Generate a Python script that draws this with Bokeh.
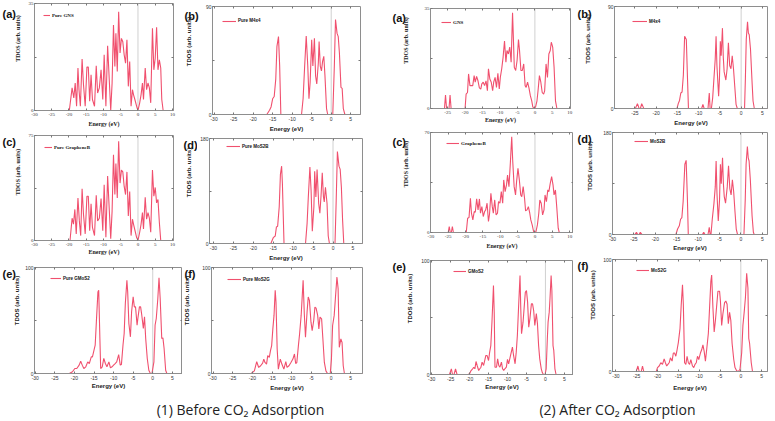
import math
from bokeh.plotting import figure
from bokeh.models import Range1d, FixedTicker, LinearAxis, Span, Label
from bokeh.core.properties import value
from bokeh.layouts import column, row
from bokeh.embed import file_html
from bokeh.resources import INLINE

# ---------------- data (energy eV, TDOS arb. units) ----------------
gns_before = [(-30, 0), (-19.9, 0), (-19.1, 7.4), (-18.6, 4.1), (-18.2, 9.0), (-17.8, 1.4), (-17.4, 13.9), (-17.1, 6.8),
              (-16.7, 1.4), (-16.2, 16.8), (-15.8, 8.5), (-15.3, 1.4), (-14.8, 14.2), (-14.4, 14.2), (-14.0, 3.0),
              (-13.6, 11.7), (-13.2, 3.6), (-12.6, 1.4), (-12.1, 14.6), (-11.7, 5.7), (-11.2, 7.4), (-10.7, 13.3),
              (-10.2, 3.6), (-9.8, 18.2), (-9.3, 1.4), (-8.8, 21.2), (-8.3, 9.5), (-7.9, 0.0), (-7.5, 9.0), (-7.1, 28.0),
              (-6.7, 14.4), (-6.4, 25.3), (-6.0, 12.8), (-5.6, 32.3), (-5.2, 18.8), (-4.8, 23.6), (-4.4, 22.5),
              (-4.0, 18.2), (-3.6, 15.5), (-3.2, 23.1), (-2.8, 7.9), (-2.4, 16.0), (-2.0, 1.4), (-1.6, 6.8), (-1.3, 5.2),
              (-0.9, 3.6), (-0.4, 1.4), (0.0, 0), (0.5, 2.5), (0.9, 5.2), (1.3, 9.0), (1.6, 3.6), (2.1, 13.9), (2.5, 6.8),
              (2.9, 9.0), (3.3, 7.4), (3.7, 2.5), (4.2, 26.9), (4.6, 13.3), (5.0, 17.1), (5.4, 27.2), (5.8, 13.3),
              (6.2, 16.6), (6.6, 13.9), (6.9, 3.6), (7.3, 0), (10.3, 0)]

m4x4_before = [(-30.4, 0), (-16.5, 0), (-15.8, 3.5), (-15.4, 6.3), (-15.0, 13.1), (-14.6, 15.0), (-14.2, 29.5),
               (-13.9, 56.7), (-13.5, 64.9), (-13.2, 40.4), (-12.9, 0), (-7.6, 0), (-7.2, 13.1), (-6.8, 40.4),
               (-6.4, 65.4), (-6.0, 40.4), (-5.7, 13.1), (-5.4, 26.7), (-5.0, 62.2), (-4.7, 40.4), (-4.3, 63.5),
               (-4.0, 32.2), (-3.7, 25.4), (-3.3, 43.1), (-3.1, 60.8), (-2.8, 40.4), (-2.5, 36.3), (-2.2, 44.5),
               (-1.9, 48.5), (-1.6, 32.2), (-1.2, 4.9), (-0.9, 0), (0.4, 0), (0.8, 40.4), (1.1, 79.1), (1.5, 67.6),
               (1.8, 64.9), (2.1, 51.3), (2.5, 22.6), (2.8, 21.8), (3.1, 4.9), (3.5, 0), (7.5, 0)]

grapheneb_before = [(-30, 0), (-19.7, 0), (-19.1, 15.9), (-18.7, 11.7), (-18.3, 22.2), (-17.9, 4.7), (-17.4, 30.4),
                    (-17.0, 14.0), (-16.6, 3.5), (-16.2, 37.0), (-15.8, 18.7), (-15.3, 4.7), (-14.8, 31.6),
                    (-14.4, 31.6), (-14.0, 7.0), (-13.6, 26.2), (-13.2, 9.4), (-12.6, 3.5), (-12.1, 32.3),
                    (-11.7, 14.0), (-11.2, 15.9), (-10.7, 30.0), (-10.2, 7.0), (-9.8, 39.8), (-9.3, 2.3),
                    (-8.8, 46.1), (-8.3, 21.0), (-7.9, 1.2), (-7.5, 21.0), (-7.1, 61.3), (-6.7, 32.8), (-6.4, 55.0),
                    (-6.0, 30.4), (-5.6, 70.9), (-5.2, 41.0), (-4.8, 50.3), (-4.4, 49.0), (-4.0, 38.6), (-3.6, 32.8),
                    (-3.2, 49.0), (-2.8, 17.6), (-2.4, 35.0), (-2.0, 3.5), (-1.6, 15.2), (-1.3, 11.7), (-0.9, 7.5),
                    (-0.4, 2.3), (0.0, 0), (0.5, 5.9), (0.9, 11.7), (1.3, 19.9), (1.6, 8.2), (2.1, 30.9), (2.5, 15.2),
                    (2.9, 19.9), (3.3, 15.9), (3.7, 5.9), (4.2, 50.3), (4.6, 31.6), (5.0, 37.9), (5.4, 26.9),
                    (5.8, 29.3), (6.2, 12.9), (6.6, 0), (10.3, 0)]

mos2b_before = [(-31, 0), (-15.6, 0), (-15.0, 10.0), (-14.5, 12.8), (-14.2, 28.4), (-13.9, 29.5), (-13.5, 63.0),
                (-13.2, 118.6), (-12.9, 132.6), (-12.7, 102.0), (-12.3, 0), (-6.9, 0), (-6.5, 35.0), (-6.2, 79.7),
                (-5.8, 131.0), (-5.5, 90.8), (-5.2, 21.2), (-4.8, 63.0), (-4.6, 124.0), (-4.3, 79.7), (-4.0, 127.0),
                (-3.6, 68.5), (-3.3, 51.8), (-3.0, 82.4), (-2.7, 121.4), (-2.4, 79.7), (-2.2, 71.3), (-1.9, 96.4),
                (-1.5, 68.5), (-1.2, 12.8), (-0.9, 0), (0.5, 0), (0.8, 74.0), (1.1, 157.6), (1.5, 132.6), (1.8, 127.0),
                (2.1, 96.4), (2.4, 40.7), (2.7, 0), (7.4, 0)]

gmos2_before = [(-30.2, 0), (-21.3, 0), (-20.5, 1.6), (-19.9, 4.7), (-19.4, 4.7), (-18.8, 7.9), (-18.4, 11.6),
                (-18.0, 7.9), (-17.6, 4.7), (-17.1, 6.3), (-16.6, 11.0), (-16.2, 9.4), (-15.7, 15.7), (-15.4, 15.7),
                (-15.0, 22.0), (-14.7, 26.7), (-14.4, 48.7), (-14.0, 77.0), (-13.8, 78.6), (-13.5, 33.0),
                (-13.3, 4.7), (-12.9, 6.3), (-12.5, 14.2), (-12.1, 9.4), (-11.7, 6.3), (-11.2, 11.0), (-10.8, 5.3),
                (-10.4, 6.3), (-10.0, 7.9), (-9.6, 9.4), (-9.2, 11.0), (-8.7, 17.9), (-8.3, 7.9), (-8.0, 8.5),
                (-7.6, 26.7), (-7.3, 37.7), (-7.0, 66.0), (-6.6, 88.0), (-6.4, 77.0), (-6.1, 47.2), (-5.7, 34.6),
                (-5.4, 58.2), (-5.0, 72.3), (-4.7, 62.9), (-4.4, 62.9), (-4.0, 45.6), (-3.8, 51.9), (-3.4, 62.9),
                (-3.1, 62.9), (-2.8, 55.0), (-2.4, 42.5), (-2.1, 53.5), (-1.8, 33.0), (-1.4, 14.2), (-1.0, 3.1),
                (-0.6, 0), (-0.2, 0), (0.3, 11.0), (0.6, 45.6), (0.9, 51.9), (1.3, 70.8), (1.6, 90.3), (1.9, 70.8),
                (2.3, 33.0), (2.6, 33.6), (2.9, 23.6), (3.3, 3.1), (3.6, 0), (7.6, 0)]

mos2g_before = [(-30.4, 0), (-20.3, 0), (-19.5, 2.5), (-18.9, 11.1), (-18.4, 5.7), (-17.9, 7.3), (-17.4, 9.8),
                (-17.1, 13.6), (-16.8, 10.4), (-16.4, 8.9), (-16.1, 16.8), (-15.7, 15.2), (-15.4, 21.5),
                (-15.1, 26.3), (-14.8, 42.1), (-14.5, 54.8), (-14.2, 78.5), (-14.0, 67.4), (-13.7, 23.1),
                (-13.4, 4.1), (-12.9, 13.6), (-12.5, 8.9), (-12.0, 4.1), (-11.5, 11.1), (-11.2, 5.7), (-10.7, 7.3),
                (-10.2, 10.4), (-9.7, 13.6), (-9.3, 18.4), (-9.0, 9.4), (-8.7, 10.4), (-8.3, 26.3), (-8.0, 37.3),
                (-7.6, 54.8), (-7.1, 88.0), (-6.8, 56.3), (-6.5, 34.2), (-6.1, 57.9), (-5.8, 72.2), (-5.5, 69.0),
                (-5.1, 48.4), (-4.8, 40.5), (-4.4, 50.0), (-4.1, 62.7), (-3.8, 61.7), (-3.4, 54.8), (-3.1, 42.1),
                (-2.8, 53.2), (-2.4, 51.6), (-2.1, 34.2), (-1.7, 10.4), (-1.3, 2.5), (-0.9, 0), (-0.2, 0),
                (0.1, 13.6), (0.4, 45.3), (0.8, 54.8), (1.1, 70.6), (1.5, 91.1), (1.8, 80.1), (2.1, 24.7),
                (2.5, 32.6), (2.8, 29.4), (3.1, 7.3), (3.4, 0), (8.0, 0)]

gns_after = [(-29.9, 0), (-25.9, 0), (-25.6, 4.7), (-25.3, 0), (-24.6, 0), (-24.3, 4.7), (-24.0, 0), (-20.0, 0),
             (-19.7, 5.0), (-19.3, 5.6), (-19.0, 12.1), (-18.6, 8.0), (-18.2, 8.0), (-17.8, 8.0), (-17.4, 11.5),
             (-17.1, 9.2), (-16.7, 11.2), (-16.3, 9.7), (-15.9, 7.2), (-15.5, 6.8), (-15.2, 8.6), (-14.8, 9.2),
             (-14.4, 8.0), (-14.0, 9.7), (-13.6, 6.2), (-13.3, 13.9), (-12.9, 10.3), (-12.5, 9.2), (-12.1, 6.2),
             (-11.8, 9.2), (-11.4, 10.9), (-11.0, 7.4), (-10.6, 12.3), (-10.2, 6.8), (-9.9, 10.9), (-9.5, 13.9),
             (-9.1, 18.0), (-8.7, 23.6), (-8.3, 16.2), (-8.0, 20.3), (-7.6, 19.1), (-7.2, 21.5), (-6.8, 16.2),
             (-6.4, 33.5), (-6.2, 26.2), (-5.9, 14.4), (-5.5, 13.3), (-5.1, 16.8), (-4.7, 24.1), (-4.4, 20.3),
             (-4.0, 13.3), (-3.6, 13.3), (-3.2, 15.6), (-2.8, 8.0), (-2.5, 7.4), (-2.1, 9.2), (-1.7, 7.2),
             (-1.3, 4.5), (-0.9, 2.7), (-0.6, 0.6), (-0.2, 0), (0.2, 0.6), (0.6, 2.7), (0.9, 6.2), (1.3, 11.5),
             (1.7, 9.2), (2.1, 5.6), (2.5, 5.0), (2.8, 6.2), (3.2, 15.6), (3.6, 10.9), (4.0, 19.1), (4.4, 20.3),
             (4.7, 23.2), (5.1, 21.5), (5.5, 14.4), (5.9, 2.7), (6.3, 0), (10.2, 0)]

m4x4_after = [(-29.8, 0), (-24.9, 0), (-24.4, 4.3), (-24.0, 0), (-23.7, 0), (-23.4, 4.3), (-22.9, 0), (-15.1, 0),
              (-14.8, 4.3), (-14.5, 7.1), (-14.2, 13.7), (-13.9, 14.6), (-13.6, 29.4), (-13.3, 63.7), (-12.9, 60.9),
              (-12.6, 23.7), (-12.4, 0), (-9.3, 0), (-9.0, 3.7), (-8.7, 0), (-7.8, 0), (-7.5, 13.7), (-7.3, 0),
              (-7.0, 0), (-6.7, 9.4), (-6.4, 26.6), (-6.1, 43.7), (-5.9, 63.7), (-5.7, 38.0), (-5.3, 10.9),
              (-5.1, 26.6), (-4.9, 59.4), (-4.7, 46.6), (-4.4, 70.9), (-4.2, 45.1), (-4.0, 32.3), (-3.6, 25.1),
              (-3.3, 35.1), (-3.0, 58.0), (-2.7, 38.0), (-2.4, 35.1), (-2.1, 46.6), (-1.8, 35.1), (-1.5, 19.4),
              (-1.2, 3.7), (-0.9, 0), (0.8, 0), (1.0, 26.6), (1.2, 60.9), (1.5, 76.6), (1.7, 66.6), (1.9, 65.1),
              (2.2, 52.3), (2.6, 20.9), (2.8, 6.6), (3.1, 0), (6.2, 0)]

grapheneb_after = [(-30.1, 0), (-25.0, 0), (-24.7, 4.2), (-24.4, 0), (-24.1, 0), (-23.8, 4.2), (-23.5, 0),
                   (-19.8, 0), (-19.4, 10.0), (-19.0, 10.5), (-18.6, 24.0), (-18.3, 13.5), (-17.9, 8.8),
                   (-17.5, 14.7), (-17.2, 14.2), (-16.8, 23.5), (-16.4, 15.8), (-16.0, 23.5), (-15.7, 13.5),
                   (-15.3, 18.1), (-14.9, 11.2), (-14.5, 14.7), (-14.2, 15.8), (-13.8, 20.5), (-13.4, 7.7),
                   (-13.1, 12.8), (-12.7, 27.4), (-12.3, 18.1), (-12.0, 13.5), (-11.6, 22.8), (-11.2, 12.3),
                   (-10.8, 13.5), (-10.5, 21.6), (-10.1, 20.5), (-9.7, 28.6), (-9.3, 20.5), (-9.0, 36.8),
                   (-8.6, 28.6), (-8.2, 33.3), (-7.9, 40.2), (-7.5, 32.1), (-7.1, 48.4), (-6.7, 67.0), (-6.4, 49.5),
                   (-6.0, 32.1), (-5.6, 26.3), (-5.3, 35.6), (-4.9, 44.9), (-4.5, 36.8), (-4.1, 26.3), (-3.8, 25.1),
                   (-3.4, 32.1), (-3.0, 24.0), (-2.7, 15.1), (-2.3, 15.8), (-1.9, 18.1), (-1.5, 13.5), (-1.2, 8.8),
                   (-0.8, 5.3), (-0.4, 0.7), (0.0, 0), (0.3, 0.7), (0.7, 5.3), (1.1, 13.5), (1.4, 22.8), (1.8, 20.5),
                   (2.2, 12.3), (2.6, 15.8), (2.9, 26.3), (3.3, 21.6), (3.7, 29.8), (4.0, 28.6), (4.4, 34.4),
                   (4.8, 39.1), (5.2, 33.3), (5.5, 26.3), (5.9, 29.8), (6.3, 17.0), (6.7, 3.0), (7.0, 0), (11.1, 0)]

mos2b_after = [(-30.0, 0), (-24.8, 0), (-24.4, 4.0), (-24.1, 0), (-23.8, 0), (-23.5, 4.0), (-23.1, 0), (-15.2, 0),
               (-14.8, 9.7), (-14.4, 15.4), (-14.1, 26.9), (-13.8, 29.7), (-13.5, 58.3), (-13.1, 124.0),
               (-12.8, 130.9), (-12.5, 61.1), (-12.3, 0), (-9.0, 0), (-8.7, 4.0), (-8.4, 0), (-7.7, 0), (-7.4, 12.6),
               (-7.2, 0), (-7.0, 0), (-6.7, 26.9), (-6.3, 55.4), (-6.0, 84.0), (-5.8, 129.7), (-5.6, 72.6),
               (-5.3, 24.0), (-5.0, 61.1), (-4.8, 124.0), (-4.6, 89.7), (-4.3, 135.4), (-4.1, 89.7), (-3.9, 66.9),
               (-3.6, 55.4), (-3.2, 84.0), (-2.9, 121.1), (-2.6, 81.1), (-2.3, 69.7), (-2.0, 96.6), (-1.7, 75.4),
               (-1.4, 41.1), (-1.1, 9.7), (-0.8, 0), (0.7, 0), (1.0, 61.1), (1.2, 124.0), (1.5, 155.4), (1.7, 135.4),
               (1.9, 129.7), (2.2, 95.4), (2.6, 32.6), (2.9, 4.0), (3.1, 0), (6.2, 0)]

gmos2_after = [(-30.3, 0), (-25.3, 0), (-24.8, 5.0), (-24.5, 0), (-24.1, 0), (-23.7, 5.0), (-23.3, 0), (-20.4, 0),
               (-20.0, 0.6), (-19.6, 3.5), (-19.2, 5.0), (-18.9, 6.4), (-18.6, 5.0), (-18.3, 11.4), (-18.0, 7.9),
               (-17.6, 3.5), (-17.3, 5.0), (-17.0, 6.4), (-16.7, 10.8), (-16.3, 7.9), (-16.0, 12.3), (-15.7, 16.7),
               (-15.4, 16.7), (-15.0, 12.3), (-14.7, 19.6), (-14.4, 25.4), (-14.1, 45.9), (-13.7, 78.1),
               (-13.5, 54.7), (-13.3, 6.4), (-12.9, 6.4), (-12.6, 13.7), (-12.3, 7.9), (-12.0, 6.4), (-11.6, 10.8),
               (-11.3, 5.0), (-11.0, 3.5), (-10.7, 5.0), (-10.3, 6.4), (-10.0, 13.2), (-9.7, 9.4), (-9.3, 15.2),
               (-9.0, 19.6), (-8.7, 24.0), (-8.4, 16.7), (-8.0, 9.4), (-7.7, 19.6), (-7.4, 34.2), (-7.1, 57.6),
               (-6.7, 86.8), (-6.5, 57.6), (-6.3, 35.7), (-5.9, 45.9), (-5.6, 59.1), (-5.3, 72.2), (-5.0, 73.7),
               (-4.7, 63.5), (-4.4, 41.5), (-4.1, 48.8), (-3.7, 62.0), (-3.4, 62.0), (-3.1, 56.1), (-2.8, 43.0),
               (-2.4, 53.5), (-2.1, 44.4), (-1.8, 25.4), (-1.5, 13.7), (-1.1, 5.0), (-0.8, 1.5), (-0.5, 0),
               (-0.1, 0), (0.2, 5.0), (0.5, 31.3), (0.7, 45.9), (1.0, 54.7), (1.2, 66.4), (1.5, 86.8), (1.7, 73.7),
               (2.0, 25.4), (2.2, 21.1), (2.5, 5.0), (2.8, 0), (7.4, 0)]

mos2g_after = [(-30.8, 0), (-25.1, 0), (-24.7, 4.9), (-24.4, 0), (-23.9, 0), (-23.6, 4.9), (-23.3, 0), (-20.3, 0),
               (-20.0, 3.5), (-19.6, 4.9), (-19.2, 7.8), (-18.8, 6.4), (-18.4, 11.3), (-18.1, 7.8), (-17.8, 4.9),
               (-17.5, 6.4), (-17.2, 7.8), (-16.9, 12.2), (-16.5, 9.3), (-16.2, 16.5), (-15.9, 16.5), (-15.6, 13.6),
               (-15.3, 19.4), (-15.0, 25.8), (-14.6, 38.3), (-14.3, 60.0), (-14.0, 77.4), (-13.8, 60.0),
               (-13.5, 7.8), (-13.2, 6.4), (-12.9, 13.6), (-12.6, 7.8), (-12.3, 6.4), (-12.0, 10.7), (-11.6, 4.9),
               (-11.3, 3.5), (-11.0, 6.4), (-10.7, 7.8), (-10.4, 13.6), (-10.1, 10.7), (-9.7, 16.5), (-9.4, 19.4),
               (-9.1, 23.8), (-8.8, 18.0), (-8.5, 9.3), (-8.2, 19.4), (-7.8, 33.9), (-7.5, 57.1), (-7.2, 80.3),
               (-7.0, 86.1), (-6.7, 57.1), (-6.4, 35.4), (-6.1, 45.5), (-5.8, 58.6), (-5.5, 71.6), (-5.1, 71.6),
               (-4.9, 62.9), (-4.6, 41.2), (-4.3, 51.6), (-3.9, 61.5), (-3.6, 62.9), (-3.3, 60.0), (-3.0, 42.6),
               (-2.7, 52.8), (-2.4, 45.5), (-2.1, 25.2), (-1.7, 10.7), (-1.4, 3.5), (-1.0, 0.6), (-0.6, 0),
               (-0.2, 2.0), (0.2, 16.5), (0.5, 41.2), (0.8, 52.8), (1.1, 65.8), (1.4, 87.6), (1.7, 74.5),
               (1.9, 29.6), (2.1, 25.2), (2.5, 7.8), (2.8, 0), (6.4, 0)]

energy_ticks_wide = [-30, -25, -20, -15, -10, -5, 0, 5, 10]
energy_ticks_narrow = [-30, -25, -20, -15, -10, -5, 0, 5]
panel_tags = ["(a)", "(b)", "(c)", "(d)", "(e)", "(f)"]
legend_before = ["Pure GNS", "Pure M4x4", "Pure GrapheneB", "Pure MoS2B", "Pure GMoS2", "Pure MoS2G"]
legend_after = ["GNS", "M4x4", "GrapheneB", "MoS2B", "GMoS2", "MoS2G"]
tdos_max_before = [35, 90, 75, 180, 100, 100]
tdos_max_after = [35, 90, 70, 180, 100, 100]
captions = ["(1) Before CO\u2082 Adsorption", "(2) After CO\u2082 Adsorption"]
y_title = "TDOS (arb. units)"
x_title = "Energy (eV)"

# ---------------- layout / style (pixel geometry of the page) ----------------
COL_X = [0, 182, 388, 573, 774]
ROW_Y = [[0, 129, 257, 393], [0, 134, 263, 393], [0, 126, 251, 393], [0, 128, 253, 393]]
TOTAL_H = 420
RED = "#f0506e"
GRAY = "#8e8e8e"

S = [
    dict(col=0, row=0, frame=(33, 3, 173, 111), xr=(-30, 10.3), serif=True, tag=(2, 5), leg=(9, 13), gw=7, ylc=17.5, xlc=125),
    dict(col=1, row=0, frame=(210, 6, 360, 116), xr=(-30.4, 7.5), serif=False, tag=(184, 4), leg=(10, 16.7), gw=14, ylc=188.3, xlc=130),
    dict(col=0, row=1, frame=(33, 135, 173, 242), xr=(-30, 10.3), serif=True, tag=(2, 130), leg=(10, 14), gw=8, ylc=17.5, xlc=253),
    dict(col=1, row=1, frame=(203, 138, 362, 246), xr=(-31, 7.4), serif=False, tag=(183, 134.5), leg=(17, 11), gw=14, ylc=188, xlc=259.5),
    dict(col=0, row=2, frame=(33, 267, 183, 373), xr=(-30.2, 7.6), serif=False, tag=(2, 258), leg=(16, 11), gw=11, ylc=16.7, xlc=385),
    dict(col=1, row=2, frame=(210, 267, 362, 373), xr=(-30.4, 8.0), serif=False, tag=(184, 263), leg=(16, 12), gw=14, ylc=186.7, xlc=386),
    dict(col=2, row=0, frame=(429, 8, 570, 108), xr=(-29.9, 10.2), serif=True, tag=(392, 4), leg=(11, 14), gw=10, ylc=405.8, xlc=120),
    dict(col=3, row=0, frame=(612, 6, 767, 111), xr=(-29.8, 6.2), serif=False, tag=(577, 2), leg=(18, 18), gw=15, ylc=587.5, xlc=124.5),
    dict(col=2, row=1, frame=(429, 132, 577, 233), xr=(-30.1, 11.1), serif=True, tag=(392, 130), leg=(16, 12), gw=13, ylc=405.8, xlc=246.5),
    dict(col=3, row=1, frame=(611, 132, 767, 237), xr=(-30.0, 6.2), serif=False, tag=(577, 129), leg=(22, 12), gw=14, ylc=589, xlc=249.5),
    dict(col=2, row=2, frame=(429, 260, 584, 374), xr=(-30.3, 7.4), serif=False, tag=(392, 252), leg=(23, 11), gw=13, ylc=409, xlc=386),
    dict(col=3, row=2, frame=(611, 259, 767, 374), xr=(-30.8, 6.4), serif=False, tag=(577, 253), leg=(24, 14), gw=13, ylc=592, xlc=389.5),
]

datasets = [gns_before, m4x4_before, grapheneb_before, mos2b_before, gmos2_before, mos2g_before,
            gns_after, m4x4_after, grapheneb_after, mos2b_after, gmos2_after, mos2g_after]
legends = legend_before + legend_after
ymaxes = tdos_max_before + tdos_max_after
tags = panel_tags + panel_tags


def plain_fig(w, h):
    f = figure(width=w, height=h, x_range=Range1d(0, w), y_range=Range1d(0, h),
               x_axis_location=None, y_axis_location=None, output_backend="svg",
               toolbar_location=None, tools="", title=None, min_border=0,
               background_fill_color="white", border_fill_color="white")
    f.outline_line_color = None
    f.grid.visible = False
    return f


def build(i):
    sp = S[i]
    c, r = sp["col"], sp["row"]
    x0, x1 = COL_X[c], COL_X[c + 1]
    y0, y1 = ROW_Y[c][r], ROW_Y[c][r + 1]
    W, H = x1 - x0, y1 - y0
    l, t, rr, b = sp["frame"]
    fl, fr = l - x0, rr - x0
    ft, fb = t - y0, b - y0
    fh = fb - ft
    serif = sp["serif"]
    font = "Liberation Serif" if serif else "Liberation Sans"
    ymax = ymaxes[i]
    ymid = ymax / 2
    xt = energy_ticks_wide if sp["xr"][1] > 10 else energy_ticks_narrow

    # left strip: panel tag + y title
    tag_x = sp["tag"][0] - x0
    need = 1 + 2.8 * len(str(ymax)) + 1.5
    ws = int(max(round(fl - need), math.ceil(tag_x + 13.5)))
    strip = plain_fig(ws, H)
    tag_top = sp["tag"][1] - y0
    strip.text(x=[tag_x], y=[H - tag_top], text=[tags[i]], text_font=value("Liberation Sans"),
               text_font_style="bold", text_font_size="11px", text_color="#111111",
               text_baseline="top", text_align="left")
    strip.add_layout(Label(x=sp["ylc"] - x0, y=H - (ft + fb) / 2, x_units="screen", y_units="screen",
                           text=y_title, angle=math.pi / 2, text_font=font, text_font_style="bold",
                           text_font_size="6px", text_color="#222222",
                           text_baseline="middle", text_align="center"))

    Wm = W - ws
    p = figure(width=Wm, height=H, x_range=Range1d(*sp["xr"]), y_range=Range1d(0, ymax),
               output_backend="svg", toolbar_location=None, tools="", title=None,
               min_border_left=fl - ws, min_border_right=W - fr, min_border_top=ft, min_border_bottom=H - fb,
               background_fill_color="white", border_fill_color="white")
    p.grid.visible = False
    p.outline_line_color = GRAY
    p.outline_line_width = 1

    p.add_layout(Span(location=0, dimension="height", line_color="#d0d0d0", line_width=1, level="underlay"))

    data = datasets[i]
    xs = [e for e, _ in data]
    ys = [d for _, d in data]
    p.line(xs, ys, line_color=RED, line_width=1.1, legend_label=legends[i])

    tick_font = "5px"
    ax = p.xaxis[0]
    ax.ticker = FixedTicker(ticks=xt, minor_ticks=[])
    ax.major_label_overrides = {v: str(v) for v in xt}
    ax.axis_label = x_title
    ax.axis_label_text_font = font
    ax.axis_label_text_font_style = "bold"
    ax.axis_label_text_font_size = "6px"
    ax.axis_label_text_color = "#222222"
    ax.major_label_text_font = font
    ax.major_label_text_font_size = tick_font
    ax.major_label_text_color = "#333333"
    ax.major_label_standoff = 2
    ax.major_tick_in = 2
    ax.major_tick_out = 0
    ax.major_tick_line_color = "#777777"
    ax.axis_line_color = GRAY
    ax.axis_label_standoff = max(0, round((sp["xlc"] - b) - 2 - 6 - 3.5))

    ay = p.yaxis[0]
    ay.ticker = FixedTicker(ticks=[0, ymid, ymax], minor_ticks=[])
    ay.major_label_overrides = {0: "0", ymid: "", ymax: str(ymax)}
    ay.major_label_text_font = font
    ay.major_label_text_font_size = tick_font
    ay.major_label_text_color = "#333333"
    ay.major_label_standoff = 1
    ay.major_tick_in = 2
    ay.major_tick_out = 0
    ay.major_tick_line_color = "#777777"
    ay.axis_line_color = GRAY

    top = LinearAxis(ticker=FixedTicker(ticks=xt, minor_ticks=[]), major_label_text_font_size="0px",
                     major_label_standoff=0, major_tick_in=2, major_tick_out=0, axis_line_color=None,
                     major_tick_line_color="#777777", major_label_overrides={v: "" for v in xt})
    right = LinearAxis(ticker=FixedTicker(ticks=[ymid], minor_ticks=[]), major_label_text_font_size="0px",
                       major_label_standoff=0, major_tick_in=2, major_tick_out=0, axis_line_color=None,
                       major_tick_line_color="#777777", major_label_overrides={ymid: ""})
    p.add_layout(top, "above")
    p.add_layout(right, "right")

    lg = p.legend[0]
    lg.location = (sp["leg"][0], fh - sp["leg"][1] - 3)
    lg.margin = 0
    lg.padding = 0
    lg.spacing = 0
    lg.glyph_width = sp["gw"]
    lg.glyph_height = 6
    lg.label_height = 6
    lg.label_standoff = 2
    lg.background_fill_alpha = 0
    lg.border_line_alpha = 0
    lg.label_text_font = font
    lg.label_text_font_style = "bold"
    lg.label_text_font_size = "5px" if serif else "4.5px"
    lg.label_text_color = "#111111"

    return row(strip, p, spacing=0)


cells = [build(i) for i in range(12)]
cols = [[], [], [], []]
for i, cell in enumerate(cells):
    cols[S[i]["col"]].append((S[i]["row"], cell))
col_layouts = [column(*[cell for _, cell in sorted(cc, key=lambda z: z[0])], spacing=0) for cc in cols]
top_row = row(*col_layouts, spacing=0)

BH = TOTAL_H - 393
bottom = plain_fig(COL_X[-1], BH)
for txt, cx in zip(captions, [240, 617]):
    bottom.add_layout(Label(x=cx, y=BH - (409 - 393), x_units="screen", y_units="screen", text=txt,
                            text_font="Open Sans", text_font_size="14px", text_color="#222222",
                            text_align="center", text_baseline="middle"))

layout = column(top_row, bottom, spacing=0)
open("out.html", "w").write(file_html(layout, INLINE))
